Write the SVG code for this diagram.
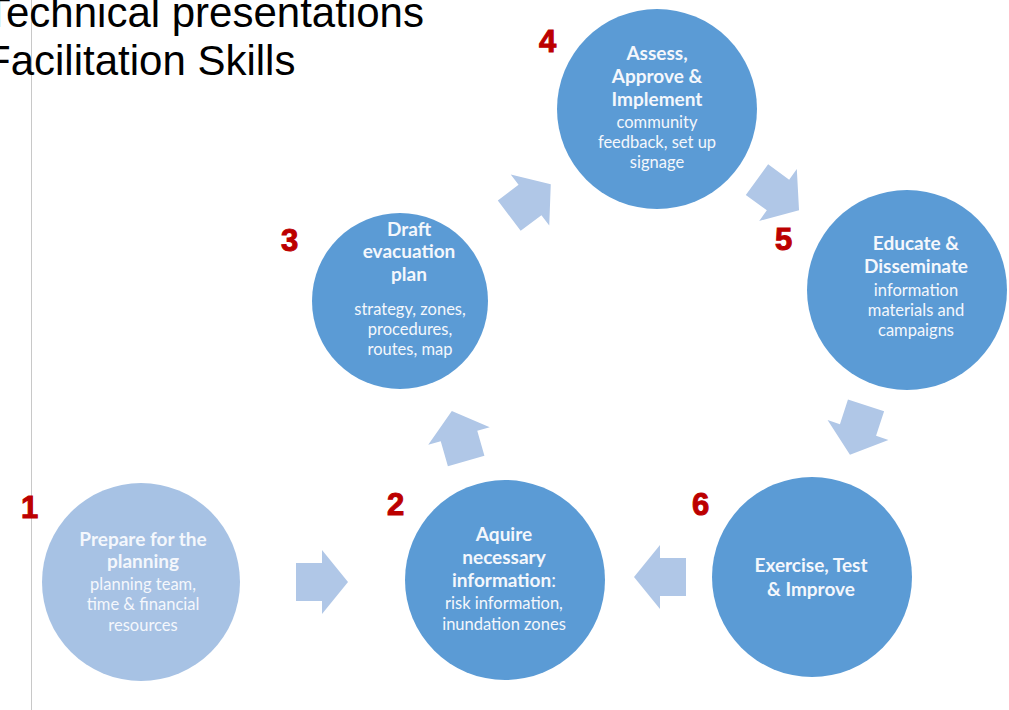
<svg xmlns="http://www.w3.org/2000/svg" width="1009" height="710" viewBox="0 0 1009 710">
<defs>
<style>
.bg{fill:#ffffff}
.c{fill:#5B9BD5}
.c1{fill:#A7C2E4}
.h{font-family:Lato,"Open Sans","Liberation Sans",sans-serif;font-weight:bold;font-size:19px;fill:#F4F7FC;text-anchor:middle}
.s{font-family:Lato,"Open Sans","Liberation Sans",sans-serif;font-size:16.5px;fill:#F4F7FC;text-anchor:middle}
.n{font-family:"Liberation Sans",Arial,sans-serif;font-weight:bold;font-size:31px;fill:#BC0000;stroke:#BC0000;stroke-width:1}
.t{font-family:"Liberation Sans",Arial,sans-serif;font-size:42px;fill:#000000}
.arr{fill:#B0C7E7}
</style>
<path id="arrow" d="M-26,-19 L0,-19 L0,-32 L26,0 L0,32 L0,19 L-26,19 Z"/>
</defs>
<rect class="bg" x="0" y="0" width="1009" height="710"/>
<line x1="31.5" y1="0" x2="31.5" y2="710" stroke="#C8C8C8" stroke-width="1"/>
<g id="title">
<text class="t" x="-15" y="27">Technical presentations</text>
<text class="t" x="-15" y="75">Facilitation Skills</text>
</g>
<g id="connectors">
<use href="#arrow" class="arr" transform="translate(322,582)"/>
<use href="#arrow" class="arr" transform="translate(459,436) rotate(-106)"/>
<use href="#arrow" class="arr" transform="translate(530,200) rotate(-37)"/>
<use href="#arrow" class="arr" transform="translate(778,195) rotate(36)"/>
<use href="#arrow" class="arr" transform="translate(858,430) rotate(108)"/>
<use href="#arrow" class="arr" transform="translate(660,577) rotate(180)"/>
</g>
<g id="node1">
<circle class="c1" cx="141" cy="582" r="99"/>
<text class="n" x="21" y="518">1</text>
<text class="h" x="143" y="546">Prepare for the</text>
<text class="h" x="143" y="568">planning</text>
<text class="s" x="143" y="590">planning team,</text>
<text class="s" x="143" y="610">time &amp; financial</text>
<text class="s" x="143" y="631">resources</text>
</g>
<g id="node2">
<circle class="c" cx="505" cy="580" r="100"/>
<text class="n" x="387" y="515">2</text>
<text class="h" x="504" y="541">Aquire</text>
<text class="h" x="504" y="564">necessary</text>
<text class="h" x="504" y="587">information<tspan font-weight="normal">:</tspan></text>
<text class="s" x="504" y="609">risk information,</text>
<text class="s" x="504" y="630">inundation zones</text>
</g>
<g id="node3">
<circle class="c" cx="400" cy="301" r="88"/>
<text class="n" x="281" y="251">3</text>
<text class="h" x="409" y="236">Draft</text>
<text class="h" x="409" y="258">evacuation</text>
<text class="h" x="409" y="281">plan</text>
<text class="s" x="410" y="315">strategy, zones,</text>
<text class="s" x="410" y="335">procedures,</text>
<text class="s" x="410" y="355">routes, map</text>
</g>
<g id="node4">
<circle class="c" cx="657" cy="109" r="100"/>
<text class="n" x="539" y="52">4</text>
<text class="h" x="657" y="60">Assess,</text>
<text class="h" x="657" y="83">Approve &amp;</text>
<text class="h" x="657" y="106">Implement</text>
<text class="s" x="657" y="128">community</text>
<text class="s" x="657" y="148">feedback, set up</text>
<text class="s" x="657" y="168">signage</text>
</g>
<g id="node5">
<circle class="c" cx="907" cy="290" r="100"/>
<text class="n" x="775" y="250">5</text>
<text class="h" x="916" y="250">Educate &amp;</text>
<text class="h" x="916" y="273">Disseminate</text>
<text class="s" x="916" y="296">information</text>
<text class="s" x="916" y="316">materials and</text>
<text class="s" x="916" y="336">campaigns</text>
</g>
<g id="node6">
<circle class="c" cx="812" cy="577" r="100"/>
<text class="n" x="692" y="515">6</text>
<text class="h" x="811" y="572">Exercise, Test</text>
<text class="h" x="811" y="596">&amp; Improve</text>
</g>
</svg>
